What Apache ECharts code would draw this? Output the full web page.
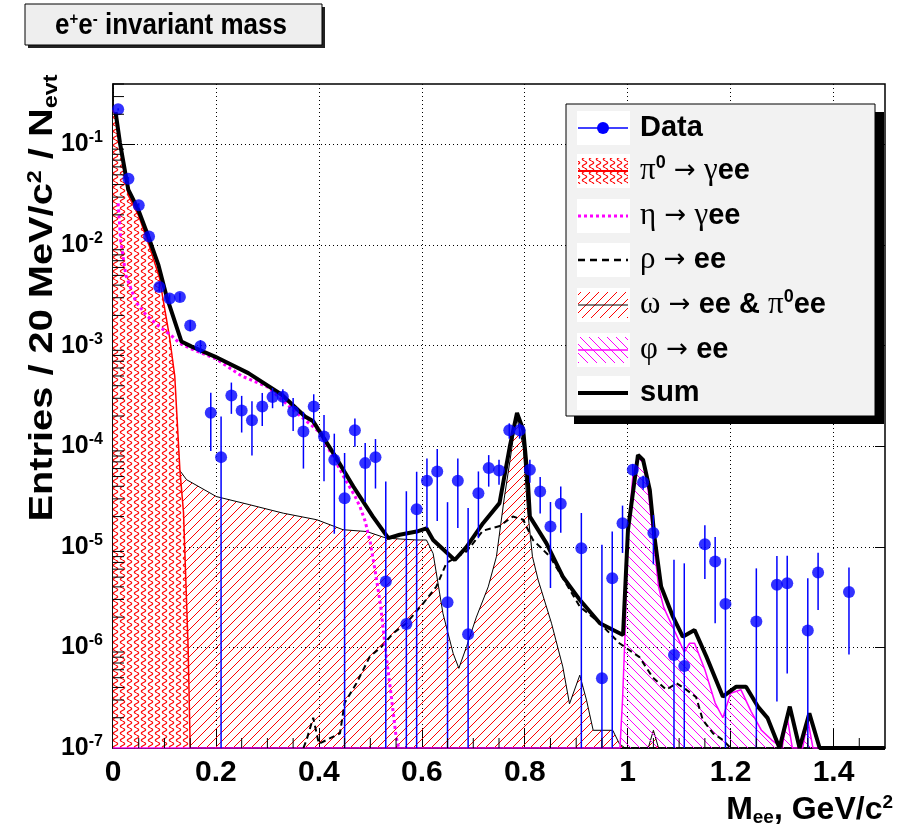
<!DOCTYPE html>
<html>
<head>
<meta charset="utf-8">
<title>e+e- invariant mass</title>
<script src="https://cdn.jsdelivr.net/npm/echarts@6/dist/echarts.min.js"></script>
<style>
    html, body { margin: 0; padding: 0; background: #fff; }
    #chart { width: 898px; height: 829px; }
</style>
</head>
<body>
<div id="chart"></div>
<script>
const SANS = '"Liberation Sans", Arial, sans-serif';
const SERIF = '"Liberation Serif", "Times New Roman", serif';
const ARROW = '"DejaVu Sans", sans-serif';
const Y_MIN = 1e-7;
const Y_MAX = 0.4;

// measured spectrum, 20 MeV bins (empty bins left out)
const dataMass = [0.01, 0.03, 0.05, 0.07, 0.09, 0.11, 0.13, 0.15, 0.17, 0.19, 0.21, 0.23, 0.25, 0.27,
    0.29, 0.31, 0.33, 0.35, 0.37, 0.39, 0.41, 0.43, 0.45, 0.47, 0.49, 0.51, 0.53, 0.57, 0.59, 0.61,
    0.63, 0.65, 0.67, 0.69, 0.71, 0.73, 0.75, 0.77, 0.79, 0.81, 0.83, 0.85, 0.87, 0.91, 0.95, 0.97,
    0.99, 1.01, 1.03, 1.05, 1.09, 1.11, 1.15, 1.17, 1.19, 1.25, 1.29, 1.31, 1.35, 1.37, 1.43];
const dataValue = [0.224, 0.0457, 0.0249, 0.0122, 0.00384, 0.00294, 0.00305, 0.00159, 0.000985,
    2.15e-4, 7.8e-5, 3.2e-4, 2.27e-4, 1.81e-4, 2.49e-4, 3.09e-4, 3.1e-4, 2.22e-4, 1.4e-4, 2.49e-4,
    1.25e-4, 7.35e-5, 3.05e-5, 1.44e-4, 6.8e-5, 7.8e-5, 4.52e-6, 1.71e-6, 2.37e-5, 4.54e-5, 5.61e-5,
    2.82e-6, 4.54e-5, 1.35e-6, 3.42e-5, 6.07e-5, 5.74e-5, 1.44e-4, 1.44e-4, 5.84e-5, 3.55e-5, 1.59e-5,
    2.68e-5, 9.7e-6, 4.93e-7, 4.88e-6, 1.72e-5, 5.84e-5, 4.4e-5, 1.37e-5, 8.41e-7, 6.55e-7, 1.06e-5,
    7.14e-6, 2.71e-6, 1.81e-6, 4.19e-6, 4.35e-6, 1.47e-6, 5.55e-6, 3.55e-6];
const dataError = [0.006, 0.002, 0.0012, 0.0008, 0.0004, 0.0003, 0.0003, 0.0002, 0.00015,
    1.25e-4, 1.2e-4, 1.1e-4, 0.9e-4, 1.0e-4, 0.9e-4, 0.7e-4, 0.6e-4, 0.8e-4, 0.8e-4, 0.8e-4,
    0.8e-4, 6e-5, 5.5e-5, 4.5e-5, 4e-5, 4e-5, 4e-5, 3.4e-5, 3.2e-5, 3e-5, 3.8e-5,
    2.5e-5, 3e-5, 2.3e-5, 2.2e-5, 2.1e-5, 1.6e-5, 2.5e-5, 2.5e-5, 1.5e-5, 1.4e-5, 1.2e-5,
    1.3e-5, 1.2e-5, 1.0e-5, 9.3e-6, 8.5e-6, 8e-6, 7e-6, 7e-6, 6.6e-6, 6.2e-6, 5.8e-6,
    5.4e-6, 5e-6, 4.3e-6, 3.9e-6, 3.8e-6, 3.4e-6, 3.2e-6, 2.7e-6];

// pi0 -> gamma ee
const pi0Mass = [0, 0.005, 0.015, 0.03, 0.05, 0.07, 0.09, 0.1, 0.11, 0.12, 0.124, 0.13, 0.137, 0.146, 0.15];
const pi0Value = [0.22, 0.19, 0.085, 0.031, 0.0195, 0.01, 0.0048, 0.0024, 0.0012, 0.0005, 0.00021,
    5.8e-5, 2.2e-5, 1e-6, 1e-7];

// eta -> gamma ee
const etaMass = [0.01, 0.015, 0.025, 0.045, 0.065, 0.09, 0.115, 0.13, 0.15, 0.2, 0.25, 0.3, 0.35,
    0.4, 0.43, 0.45, 0.47, 0.48, 0.49, 0.5, 0.51, 0.52, 0.53, 0.54, 0.55, 0.555];
const etaValue = [0.026, 0.011, 0.005, 0.0027, 0.002, 0.00155, 0.00124, 0.00105, 0.00094, 0.00074,
    0.0005, 0.00039, 0.00023, 0.00014, 7.5e-5, 4.8e-5, 3.2e-5, 2.5e-5, 1.8e-5, 1.1e-5, 5.5e-6,
    2.6e-6, 9e-7, 3.5e-7, 1.3e-7, 1e-7];

// rho -> ee
const rhoMass = [0.37, 0.376, 0.389, 0.4, 0.441, 0.45, 0.473, 0.499, 0.522, 0.544, 0.57, 0.603,
    0.628, 0.648, 0.687, 0.719, 0.75, 0.777, 0.797, 0.816, 0.849, 0.907, 0.946, 0.984, 1.023,
    1.049, 1.075, 1.095, 1.114, 1.133, 1.146, 1.166, 1.185, 1.2];
const rhoValue = [1e-7, 1.2e-7, 2e-7, 1.1e-7, 1.4e-7, 2.8e-7, 4.4e-7, 8.1e-7, 1.02e-6, 1.38e-6,
    1.74e-6, 2.75e-6, 4e-6, 6.9e-6, 9e-6, 1.45e-5, 1.6e-5, 2.0e-5, 1.86e-5, 1.17e-5, 8e-6, 2.55e-6,
    1.74e-6, 1.1e-6, 8e-7, 5e-7, 3.8e-7, 4.4e-7, 3.8e-7, 3.2e-7, 1.9e-7, 1.4e-7, 1.2e-7, 1e-7];

// omega -> ee & pi0 ee
const omegaMass = [0, 0.004, 0.01, 0.015, 0.03, 0.072, 0.124, 0.143, 0.201, 0.266, 0.331, 0.396,
    0.447, 0.493, 0.531, 0.59, 0.609, 0.622, 0.641, 0.661, 0.672, 0.687, 0.706, 0.729, 0.745, 0.76,
    0.771, 0.784, 0.797, 0.805, 0.815, 0.826, 0.852, 0.874, 0.887, 0.907, 0.92, 0.933, 0.952, 0.971,
    0.984, 0.995, 1.04, 1.05, 1.06, 1.07];
const omegaValue = [3e-3, 1.2e-3, 5.5e-4, 3.2e-4, 2.1e-4, 1.16e-4, 6.3e-5, 4.65e-5, 3.16e-5, 2.62e-5,
    2.16e-5, 1.86e-5, 1.48e-5, 1.42e-5, 1.22e-5, 1.17e-5, 1.17e-5, 8.6e-6, 2.19e-6, 8.7e-7, 6.2e-7,
    1.02e-6, 2e-6, 4e-6, 8e-6, 3e-5, 7e-5, 2e-4, 1e-4, 2.5e-5, 8e-6, 4.7e-6, 1.74e-6, 6.4e-7, 2.75e-7,
    5.3e-7, 3e-7, 1.5e-7, 1.5e-7, 1.5e-7, 1.1e-7, 1e-7, 1e-7, 1.5e-7, 1e-7, 1e-7];

// phi -> ee
const phiMass = [0, 0.985, 0.99, 0.995, 1.0, 1.01, 1.02, 1.03, 1.04, 1.05, 1.06, 1.07, 1.09, 1.11,
    1.12, 1.13, 1.15, 1.17, 1.185, 1.2, 1.22, 1.24, 1.26, 1.28, 1.3, 1.31, 1.32, 1.34, 1.35, 1.36, 1.5];
const phiValue = [1e-7, 1e-7, 3e-7, 1.4e-6, 1.2e-5, 5e-5, 8e-5, 7e-5, 3.6e-5, 1.2e-5, 4e-6, 2.5e-6,
    1.5e-6, 9e-7, 1.1e-6, 1.1e-6, 6e-7, 2.8e-7, 2e-7, 3.5e-7, 3.8e-7, 2.3e-7, 1.5e-7, 1.2e-7, 1e-7,
    2e-7, 1e-7, 1e-7, 1.9e-7, 1e-7, 1e-7];

// sum of all sources
const sumMass = [0.005, 0.0136, 0.0297, 0.0491, 0.0685, 0.088, 0.104, 0.133, 0.153, 0.198, 0.263,
    0.328, 0.373, 0.389, 0.428, 0.467, 0.505, 0.535, 0.557, 0.59, 0.609, 0.622, 0.664, 0.687, 0.719,
    0.751, 0.771, 0.785, 0.797, 0.806, 0.81, 0.842, 0.874, 0.907, 0.946, 0.991, 1.0006, 1.02, 1.03,
    1.043, 1.052, 1.065, 1.088, 1.107, 1.13, 1.153, 1.185, 1.211, 1.23, 1.253, 1.272, 1.295, 1.315,
    1.334, 1.353, 1.373, 1.39, 1.5];
const sumValue = [0.21, 0.1035, 0.0357, 0.0225, 0.01225, 0.0064, 0.0031, 0.0011, 0.00098, 0.00078,
    0.000534, 0.000325, 0.000198, 0.000177, 8.55e-5, 3.98e-5, 2.0e-5, 1.22e-5, 1.32e-5, 1.42e-5,
    1.53e-5, 1.17e-5, 7.4e-6, 1.0e-5, 1.72e-5, 2.72e-5, 9.95e-5, 2.14e-4, 1.46e-4, 4.64e-5, 2.0e-5,
    1.09e-5, 5.06e-6, 2.97e-6, 1.74e-6, 1.33e-6, 1.48e-5, 8.2e-5, 7.3e-5, 3.69e-5, 1.26e-5, 4.03e-6,
    2.02e-6, 1.28e-6, 1.49e-6, 8.1e-7, 3.24e-7, 4.07e-7, 4.07e-7, 2.58e-7, 1.98e-7, 1e-7, 2.58e-7,
    1e-7, 2.21e-7, 1e-7, 1e-7, 1e-7];

const xTickValues = [0, 0.2, 0.4, 0.6, 0.8, 1, 1.2, 1.4];
const xTickLabels = ['0', '0.2', '0.4', '0.6', '0.8', '1', '1.2', '1.4'];
const yTickValues = [1e-7, 1e-6, 1e-5, 1e-4, 1e-3, 1e-2, 1e-1];
const yTickExponents = ['-7', '-6', '-5', '-4', '-3', '-2', '-1'];

const BLUE = '#0000ff';
const RED = '#ff0000';
const MAGENTA = '#ff00ff';

init();

function init() {
    let chart = echarts.init(document.getElementById('chart'), null, { renderer: 'canvas' });
    chart.setOption(getOption());
}

function zip(xs, ys) {
    return xs.map((x, i) => [x, ys[i]]);
}

// axis minor ticks: 2..9 inside every decade, 0.05 steps on mass
function getYMinorTicks() {
    let ticks = [];
    for (let e = -7; e <= -1; e++) {
        for (let m = 2; m <= 9; m++) {
            let v = m * Math.pow(10, e);
            if (v <= Y_MAX) ticks.push(v);
        }
    }
    return ticks;
}

function getXMinorTicks() {
    let ticks = [];
    for (let i = 1; i < 30; i++) {
        if (i % 4 !== 0) ticks.push(i * 0.05);
    }
    return ticks;
}

function makeHatch(color, slope, background) {
    let size = 9;
    let canvas = document.createElement('canvas');
    canvas.width = size;
    canvas.height = size;
    let ctx = canvas.getContext('2d');
    if (background) {
        ctx.fillStyle = background;
        ctx.fillRect(0, 0, size, size);
    }
    ctx.strokeStyle = color;
    ctx.lineWidth = 1;
    ctx.beginPath();
    if (slope > 0) {
        ctx.moveTo(-1, size + 1); ctx.lineTo(size + 1, -1);
        ctx.moveTo(-1, 1); ctx.lineTo(1, -1);
        ctx.moveTo(size - 1, size + 1); ctx.lineTo(size + 1, size - 1);
    } else {
        ctx.moveTo(-1, -1); ctx.lineTo(size + 1, size + 1);
        ctx.moveTo(size - 1, -1); ctx.lineTo(size + 1, 1);
        ctx.moveTo(-1, size - 1); ctx.lineTo(1, size + 1);
    }
    ctx.stroke();
    return { image: canvas, repeat: 'repeat' };
}

// wavy ROOT-like fill used for the pi0 Dalitz component
function makeWave(color) {
    let w = 7, h = 7;
    let canvas = document.createElement('canvas');
    canvas.width = w;
    canvas.height = h;
    let ctx = canvas.getContext('2d');
    ctx.fillStyle = '#fff';
    ctx.fillRect(0, 0, w, h);
    ctx.strokeStyle = color;
    ctx.lineWidth = 1.1;
    ctx.beginPath();
    for (let y = 0; y <= h; y += 0.5) {
        let x = 3.5 + 2.2 * Math.sin(y / h * Math.PI * 2);
        if (y === 0) ctx.moveTo(x, y);
        else ctx.lineTo(x, y);
    }
    ctx.stroke();
    return { image: canvas, repeat: 'repeat' };
}

function renderErrorBar(params, api) {
    let mass = api.value(0);
    let value = api.value(1);
    let error = api.value(2);
    let low = Math.max(value - error, Y_MIN);
    let high = Math.min(value + error, Y_MAX);
    let top = api.coord([mass, high]);
    let bottom = api.coord([mass, low]);
    return {
        type: 'line',
        shape: { x1: top[0], y1: top[1], x2: bottom[0], y2: bottom[1] },
        style: { stroke: BLUE, lineWidth: 1.5 }
    };
}

function renderYMinorTick(params, api) {
    let rect = params.coordSys;
    let y = api.coord([0, api.value(1)])[1];
    return {
        type: 'line',
        shape: { x1: rect.x, y1: y, x2: rect.x + 11, y2: y },
        style: { stroke: '#000', lineWidth: 1 }
    };
}

function renderXMinorTick(params, api) {
    let rect = params.coordSys;
    let x = api.coord([api.value(0), Y_MIN])[0];
    let bottom = rect.y + rect.height;
    return {
        type: 'line',
        shape: { x1: x, y1: bottom, x2: x, y2: bottom - 10 },
        style: { stroke: '#000', lineWidth: 1 }
    };
}

function getOption() {
    let axisRich = {
        b: { fontFamily: SANS, fontWeight: 'bold', fontSize: 25, color: '#000' },
        s: { fontFamily: SANS, fontWeight: 'bold', fontSize: 16, color: '#000', padding: [0, 0, 13, 0] }
    };

    return {
        animation: false,
        backgroundColor: '#fff',
        grid: {
            left: 113,
            right: 13,
            top: 84,
            bottom: 81,
            show: true,
            borderColor: '#000',
            borderWidth: 1.5,
            backgroundColor: 'transparent'
        },
        xAxis: {
            type: 'value',
            min: 0,
            max: 1.5,
            interval: 0.2,
            axisLine: { show: true, lineStyle: { color: '#000', width: 1.5 } },
            axisTick: {
                inside: true,
                length: 20,
                customValues: xTickValues,
                lineStyle: { color: '#000', width: 1 }
            },
            axisLabel: {
                customValues: xTickValues,
                margin: 10,
                fontFamily: SANS,
                fontWeight: 'bold',
                fontSize: 30,
                color: '#000',
                formatter: function (value) {
                    let i = xTickValues.findIndex(v => Math.abs(v - value) < 1e-6);
                    return i < 0 ? '' : xTickLabels[i];
                }
            },
            splitLine: { show: true, lineStyle: { color: '#000', width: 1, type: [1, 3] } }
        },
        yAxis: [
            {
                type: 'log',
                logBase: 10,
                min: Y_MIN,
                max: Y_MAX,
                axisLine: { show: true, lineStyle: { color: '#000', width: 1.5 } },
                axisTick: {
                    inside: true,
                    length: 22,
                    customValues: yTickValues,
                    lineStyle: { color: '#000', width: 1 }
                },
                axisLabel: {
                    customValues: yTickValues,
                    margin: 10,
                    rich: axisRich,
                    formatter: function (value) {
                        let i = yTickValues.findIndex(v => Math.abs(Math.log10(v) - Math.log10(value)) < 1e-6);
                        return i < 0 ? '' : '{b|10}{s|' + yTickExponents[i] + '}';
                    }
                },
                splitLine: { show: true, lineStyle: { color: '#000', width: 1, type: [1, 3] } }
            },
            {
                type: 'log',
                logBase: 10,
                min: Y_MIN,
                max: Y_MAX,
                position: 'right',
                axisLine: { show: false },
                axisTick: {
                    inside: true,
                    length: 10,
                    customValues: yTickValues,
                    lineStyle: { color: '#000', width: 1 }
                },
                axisLabel: { show: false },
                splitLine: { show: false }
            }
        ],
        graphic: getTitleGraphic().concat(getLegendGraphic()),
        series: [
            {
                name: 'omega',
                type: 'line',
                data: zip(omegaMass, omegaValue),
                symbol: 'none',
                z: 2,
                lineStyle: { color: '#000', width: 1 },
                areaStyle: { color: makeHatch(RED, 1), origin: 'start', opacity: 1 }
            },
            {
                name: 'pi0',
                type: 'line',
                data: zip(pi0Mass, pi0Value),
                symbol: 'none',
                z: 3,
                lineStyle: { color: RED, width: 1.5 },
                areaStyle: { color: makeWave(RED), origin: 'start', opacity: 1 }
            },
            {
                name: 'phi',
                type: 'line',
                data: zip(phiMass, phiValue),
                symbol: 'none',
                z: 3,
                lineStyle: { color: MAGENTA, width: 1.5 },
                areaStyle: { color: makeHatch(MAGENTA, -1), origin: 'start', opacity: 1 }
            },
            {
                name: 'rho',
                type: 'line',
                data: zip(rhoMass, rhoValue),
                symbol: 'none',
                z: 4,
                lineStyle: { color: '#000', width: 2, type: [6, 4] }
            },
            {
                name: 'eta',
                type: 'line',
                data: zip(etaMass, etaValue),
                symbol: 'none',
                z: 4,
                lineStyle: { color: MAGENTA, width: 3, type: [3, 3] }
            },
            {
                name: 'sum',
                type: 'line',
                data: zip(sumMass, sumValue),
                symbol: 'none',
                z: 5,
                lineStyle: { color: '#000', width: 4 }
            },
            {
                name: 'errors',
                type: 'custom',
                renderItem: renderErrorBar,
                encode: { x: 0, y: 1 },
                data: dataMass.map((m, i) => [m, dataValue[i], dataError[i]]),
                z: 6,
                silent: true
            },
            {
                name: 'Data',
                type: 'scatter',
                data: zip(dataMass, dataValue),
                symbol: 'circle',
                symbolSize: 12,
                itemStyle: { color: BLUE },
                z: 7
            },
            {
                name: 'yMinor',
                type: 'custom',
                renderItem: renderYMinorTick,
                encode: { x: 0, y: 1 },
                data: getYMinorTicks().map(v => [0, v]),
                z: 8,
                silent: true
            },
            {
                name: 'xMinor',
                type: 'custom',
                renderItem: renderXMinorTick,
                encode: { x: 0, y: 1 },
                data: getXMinorTicks().map(v => [v, Y_MIN]),
                z: 8,
                silent: true
            }
        ]
    };
}

function getTitleGraphic() {
    let rich = {
        t: { fontFamily: SANS, fontWeight: 'bold', fontSize: 26, color: '#000' },
        s: { fontFamily: SANS, fontWeight: 'bold', fontSize: 15, color: '#000', padding: [0, 0, 12, 0] }
    };
    let axisTitleRich = {
        t: { fontFamily: SANS, fontWeight: 'bold', fontSize: 34, color: '#000' },
        s: { fontFamily: SANS, fontWeight: 'bold', fontSize: 20, color: '#000', padding: [0, 0, 16, 0] },
        d: { fontFamily: SANS, fontWeight: 'bold', fontSize: 20, color: '#000', padding: [16, 0, 0, 0] }
    };
    return [
        { type: 'rect', shape: { x: 28, y: 7, width: 297, height: 41 }, style: { fill: '#222' }, z: 20 },
        { type: 'rect', shape: { x: 25, y: 4, width: 297, height: 41 }, style: { fill: '#eeeeee', stroke: '#000', lineWidth: 1 }, z: 21 },
        {
            type: 'text', x: 171, y: 26, z: 22, scaleY: 1.12,
            style: {
                text: '{t|e}{s|+}{t|e}{s|-}{t| invariant mass}',
                rich: rich,
                align: 'center', verticalAlign: 'middle',
                textAlign: 'center', textVerticalAlign: 'middle'
            }
        },
        {
            type: 'text', x: 43, y: 298, rotation: Math.PI / 2, z: 22, scaleX: 1.17,
            style: {
                text: '{t|Entries / 20 MeV/c}{s|2}{t| / N}{d|evt}',
                rich: axisTitleRich,
                align: 'center', verticalAlign: 'middle',
                textAlign: 'center', textVerticalAlign: 'middle'
            }
        },
        {
            type: 'text', x: 893, y: 810, z: 22,
            style: {
                text: '{t|M}{d|ee}{t|, GeV/c}{s|2}',
                rich: {
                    t: { fontFamily: SANS, fontWeight: 'bold', fontSize: 32, color: '#000' },
                    s: { fontFamily: SANS, fontWeight: 'bold', fontSize: 19, color: '#000', padding: [0, 0, 15, 0] },
                    d: { fontFamily: SANS, fontWeight: 'bold', fontSize: 19, color: '#000', padding: [15, 0, 0, 0] }
                },
                align: 'right', verticalAlign: 'middle',
                textAlign: 'right', textVerticalAlign: 'middle'
            }
        }
    ];
}

function getLegendGraphic() {
    let rows = [128, 171, 216, 260, 305, 350, 393];
    let labels = [
        '{t|Data}',
        '{g|π}{s|0}{a| → }{g|γ}{t|ee}',
        '{g|η}{a| → }{g|γ}{t|ee}',
        '{g|ρ}{a| → }{t|ee}',
        '{g|ω}{a| → }{t|ee & }{g|π}{s|0}{t|ee}',
        '{g|φ}{a| → }{t|ee}',
        '{t|sum}'
    ];
    let rich = {
        t: { fontFamily: SANS, fontWeight: 'bold', fontSize: 29, color: '#000' },
        g: { fontFamily: SERIF, fontSize: 31, color: '#000' },
        a: { fontFamily: ARROW, fontSize: 26, color: '#000' },
        s: { fontFamily: SANS, fontWeight: 'bold', fontSize: 18, color: '#000', padding: [0, 0, 16, 0] }
    };
    let x1 = 578, x2 = 628;
    let elements = [
        { type: 'rect', shape: { x: 574, y: 112, width: 310, height: 312 }, style: { fill: '#000' }, z: 20 },
        { type: 'rect', shape: { x: 566, y: 104, width: 309, height: 312 }, style: { fill: '#f2f2f2', stroke: '#000', lineWidth: 1 }, z: 21 }
    ];
    rows.forEach(y => {
        elements.push({ type: 'rect', shape: { x: 577, y: y - 17, width: 53, height: 34 }, style: { fill: '#fff' }, z: 22 });
    });
    let hline = (y, style) => ({ type: 'line', shape: { x1: x1, y1: y, x2: x2, y2: y }, style: style, z: 24 });

    elements.push(hline(rows[0], { stroke: BLUE, lineWidth: 1.5 }));
    elements.push({ type: 'circle', shape: { cx: 603, cy: rows[0], r: 6 }, style: { fill: BLUE }, z: 25 });

    elements.push({ type: 'rect', shape: { x: x1, y: rows[1] - 13, width: 50, height: 26 }, style: { fill: makeWave(RED) }, z: 23 });
    elements.push(hline(rows[1], { stroke: RED, lineWidth: 2 }));

    elements.push(hline(rows[2], { stroke: MAGENTA, lineWidth: 3, lineDash: [3, 3] }));
    elements.push(hline(rows[3], { stroke: '#000', lineWidth: 2.5, lineDash: [7, 5] }));

    elements.push({ type: 'rect', shape: { x: x1, y: rows[4] - 13, width: 50, height: 26 }, style: { fill: makeHatch(RED, 1) }, z: 23 });
    elements.push(hline(rows[4], { stroke: '#000', lineWidth: 1 }));

    elements.push({ type: 'rect', shape: { x: x1, y: rows[5] - 13, width: 50, height: 26 }, style: { fill: makeHatch(MAGENTA, -1) }, z: 23 });
    elements.push(hline(rows[5], { stroke: MAGENTA, lineWidth: 1.5 }));

    elements.push(hline(rows[6], { stroke: '#000', lineWidth: 4 }));

    labels.forEach((label, i) => {
        elements.push({
            type: 'text', x: 640, y: rows[i], z: 25,
            style: {
                text: label,
                rich: rich,
                align: 'left', verticalAlign: 'middle',
                textAlign: 'left', textVerticalAlign: 'middle'
            }
        });
    });
    return elements;
}
</script>
</body>
</html>
